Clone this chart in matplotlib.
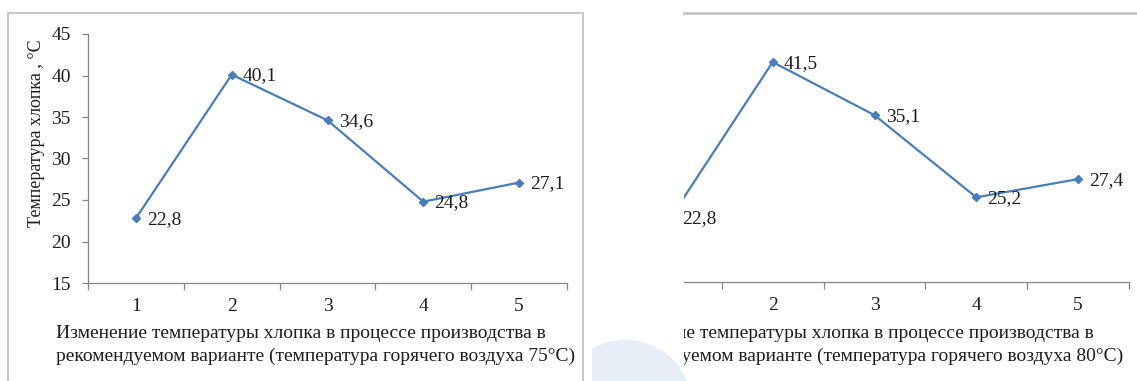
import matplotlib.pyplot as plt
from matplotlib.patches import Rectangle, Ellipse
from matplotlib.lines import Line2D

plt.rcParams['font.family'] = ['Liberation Serif', 'DejaVu Serif']

# stages of the production process and cotton temperature at each stage
stages = [1, 2, 3, 4, 5]
temp_75 = [22.8, 40.1, 34.6, 24.8, 27.1]
temp_80 = [22.8, 41.5, 35.1, 25.2, 27.4]
y_ticks = [15, 20, 25, 30, 35, 40, 45]

ylabel = "Температура хлопка , °С"
xlabel_75 = ("Изменение температуры хлопка в процессе производства в\n"
             "рекомендуемом варианте (температура горячего воздуха 75°С)")
xlabel_80 = ("Изменение температуры хлопка в процессе производства в\n"
             "рекомендуемом варианте (температура горячего воздуха 80°С)")

W, H = 1137, 381
line_color = '#4a7ebb'
axis_color = '#868686'
text_color = '#1e1e1e'
fs = 14


def fx(px):
    return px / W


def fy(py):
    return 1 - py / H


fig = plt.figure(figsize=(W / 100, H / 100), dpi=100)


def draw_chart(ax, values, show_y=True):
    ax.plot(stages, values, color=line_color, lw=1.6, marker='D', ms=4.5,
            mec=line_color, mfc=line_color, zorder=3)
    for x, v in zip(stages, values):
        ax.annotate(f"{v:.1f}".replace('.', ','), (x, v), xytext=(8, -1),
                    textcoords='offset points', ha='left', va='center',
                    fontsize=fs, color=text_color)
    ax.set_xlim(0.5, 5.5)
    ax.set_ylim(15, 45)
    ax.set_xticks(stages)
    ax.set_xticks([s + 0.5 for s in [0] + stages], minor=True)
    ax.tick_params(axis='x', which='major', length=0, pad=11, labelsize=fs,
                   labelcolor=text_color)
    ax.tick_params(axis='x', which='minor', length=5, width=0.9,
                   color=axis_color, direction='out')
    for s in ['top', 'right']:
        ax.spines[s].set_visible(False)
    ax.spines['bottom'].set_color(axis_color)
    ax.spines['bottom'].set_linewidth(0.9)
    if show_y:
        ax.set_yticks(y_ticks)
        ax.tick_params(axis='y', length=4.5, width=0.9, color=axis_color,
                       pad=8, labelsize=fs, labelcolor=text_color)
        ax.spines['left'].set_color(axis_color)
        ax.spines['left'].set_linewidth(0.9)
        ax.set_ylabel(ylabel, fontsize=13, color=text_color)
        ax.yaxis.set_label_coords(-0.09, 0.6)
    else:
        ax.set_yticks([])
        ax.spines['left'].set_visible(False)


# left chart: hot air 75°C
ax1 = fig.add_axes([fx(88), fy(283), fx(567 - 88), (283 - 34) / H])
draw_chart(ax1, temp_75)
fig.text(fx(316), fy(345), xlabel_75, ha='center', va='center',
         multialignment='left', fontsize=fs, color=text_color, linespacing=1.5)

# right chart: hot air 80°C (its left part is cut off)
ax2 = fig.add_axes([fx(620), fy(282), fx(1129 - 620), (282 - 33) / H])
draw_chart(ax2, temp_80, show_y=False)
fig.text(fx(864), fy(345), xlabel_80, ha='center', va='center',
         multialignment='left', fontsize=fs, color=text_color, linespacing=1.5)

# cut edge between the two charts
fig.patches.append(Rectangle((fx(585), 0), fx(684 - 585), 1, transform=fig.transFigure,
                             facecolor='white', edgecolor='none', zorder=10))

# chart frames
fig.patches.append(Rectangle((fx(8), -0.1), fx(583 - 8), fy(13) + 0.1,
                             transform=fig.transFigure, facecolor='none',
                             edgecolor='#c0c0c0', lw=1.2, zorder=11))
fig.lines.append(Line2D([fx(684), 1], [fy(13), fy(13)], transform=fig.transFigure,
                        color='#c8c8c8', lw=2.2, zorder=11))

# pale watermark shape at the bottom
blob = Ellipse((fx(625), fy(400)), fx(130), 120 / H, transform=fig.transFigure,
               facecolor='#e6edf6', edgecolor='none', zorder=12)
fig.patches.append(blob)
clip = Rectangle((fx(592), 0), fx(100), 1, transform=fig.transFigure,
                 facecolor='none', edgecolor='none')
blob.set_clip_path(clip)

fig.savefig('out.png', dpi=100)
